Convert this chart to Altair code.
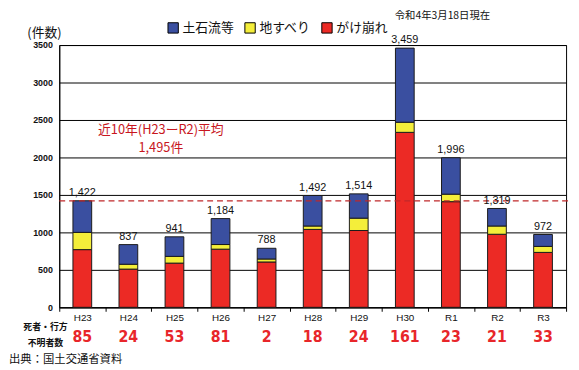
import altair as alt
import pandas as pd

years = ["H23", "H24", "H25", "H26", "H27", "H28", "H29", "H30", "R1", "R2", "R3"]
gake = [770, 510, 590, 776, 605, 1040, 1025, 2335, 1410, 975, 733]      # がけ崩れ (red)
jisuberi = [230, 65, 90, 62, 40, 45, 165, 135, 100, 110, 80]           # 地すべり (yellow)
dosekiryu = [422, 262, 261, 346, 143, 407, 324, 989, 486, 234, 159]    # 土石流等 (blue)
totals = [1422, 837, 941, 1184, 788, 1492, 1514, 3459, 1996, 1319, 972]
deaths = [85, 24, 53, 81, 2, 18, 24, 161, 23, 21, 33]
avg_line = 1420
y_ticks = [0, 500, 1000, 1500, 2000, 2500, 3000, 3500]

cats = ["土石流等", "地すべり", "がけ崩れ"]
cat_colors = ["#3A4FA0", "#F4EE3A", "#EC2A25"]
stack_order = {"がけ崩れ": 0, "地すべり": 1, "土石流等": 2}

rows = []
for i, y in enumerate(years):
    for c, v in (("がけ崩れ", gake[i]), ("地すべり", jisuberi[i]), ("土石流等", dosekiryu[i])):
        rows.append({"year": y, "cat": c, "value": v, "ord": stack_order[c]})
df = pd.DataFrame(rows)
df_tot = pd.DataFrame({"year": years, "total": totals,
                       "label": [f"{t:,}" for t in totals],
                       "deaths": [str(d) for d in deaths]})

W, H = 514, 266
xscale = alt.Scale(paddingInner=0, paddingOuter=0)
xaxis = alt.Axis(labelAngle=0, tickBand="extent", tickSize=4, tickColor="black",
                 labelPadding=1, labelFontSize=10, labelColor="#111",
                 domainColor="black", labelFont="Liberation Sans")
yscale = alt.Scale(domain=[0, 3500], nice=False)
yaxis = alt.Axis(values=y_ticks, format="d", grid=True, gridColor="black",
                 gridWidth=1, gridOpacity=1, ticks=False, labelPadding=7,
                 labelFontSize=9, labelFontWeight="bold", labelColor="#111",
                 domainColor="black", labelFont="Liberation Sans")

def X():
    return alt.X("year:N", sort=years, title=None, scale=xscale, axis=xaxis)

def Y(field, **kw):
    return alt.Y(field, scale=yscale, title=None, axis=yaxis, **kw)

bars = alt.Chart(df).mark_bar(size=19, stroke="#1a1a1a", strokeWidth=1).encode(
    x=X(),
    y=Y("value:Q", stack="zero"),
    color=alt.Color("cat:N", scale=alt.Scale(domain=cats, range=cat_colors),
                    legend=alt.Legend(title=None, orient="none", legendX=109, legendY=-24,
                                      direction="horizontal", symbolType="square",
                                      symbolSize=110, symbolStrokeColor="black",
                                      symbolStrokeWidth=1, symbolOpacity=1,
                                      labelFontSize=13, labelFont="Noto Sans CJK JP",
                                      labelColor="#111", columnPadding=8, labelOffset=3)),
    order=alt.Order("ord:Q"),
)

labels = alt.Chart(df_tot).mark_text(dy=-8, fontSize=11, color="#111",
                                     font="Liberation Sans").encode(
    x=X(), y=Y("total:Q"), text="label:N")

death_text = alt.Chart(df_tot).mark_text(
    fontSize=16, fontWeight="bold", color="#E8262A",
    font="'Liberation Sans Narrow', 'DejaVu Sans Condensed', 'Liberation Sans', sans-serif").encode(
    x=X(), y=alt.value(296), text="deaths:N")

avg = alt.Chart(pd.DataFrame({"v": [avg_line]})).mark_rule(
    color="#C0282A", strokeDash=[6, 4], strokeWidth=1.2).encode(
    y=Y("v:Q"), x=alt.value(0), x2=alt.value(W + 8))

def txt(t, x, y, size=12, color="#111", weight="normal", align="center", font="Noto Sans CJK JP"):
    return alt.Chart(pd.DataFrame({"t": [t]})).mark_text(
        fontSize=size, color=color, fontWeight=weight, align=align, font=font).encode(
        x=alt.value(x), y=alt.value(y), text="t:N")

annots = [
    txt("近10年(H23ーR2)平均", 103, 86, 13, "#C8161E"),
    txt("1,495件", 103, 104, 13, "#C8161E"),
    txt("(件数)", -15, -12, 13),
    txt("令和4年3月18日現在", 437, -29, 10.5, align="right"),
    txt("死者・行方", -14, 286, 9, weight="bold"),
    txt("不明者数", -14, 302, 9, weight="bold"),
    txt("出典：国土交通省資料", -51, 319, 11.5, align="left"),
]

chart = alt.layer(bars, avg, labels, death_text, *annots).properties(
    width=W, height=H,
    background="white",
    autosize=alt.AutoSizeParams(type="none"),
    padding={"left": 52, "top": 35, "right": 5, "bottom": 61},
).configure_view(stroke="black", strokeWidth=1)

chart.save("out.html", embed_options={"renderer": "svg", "actions": False})
